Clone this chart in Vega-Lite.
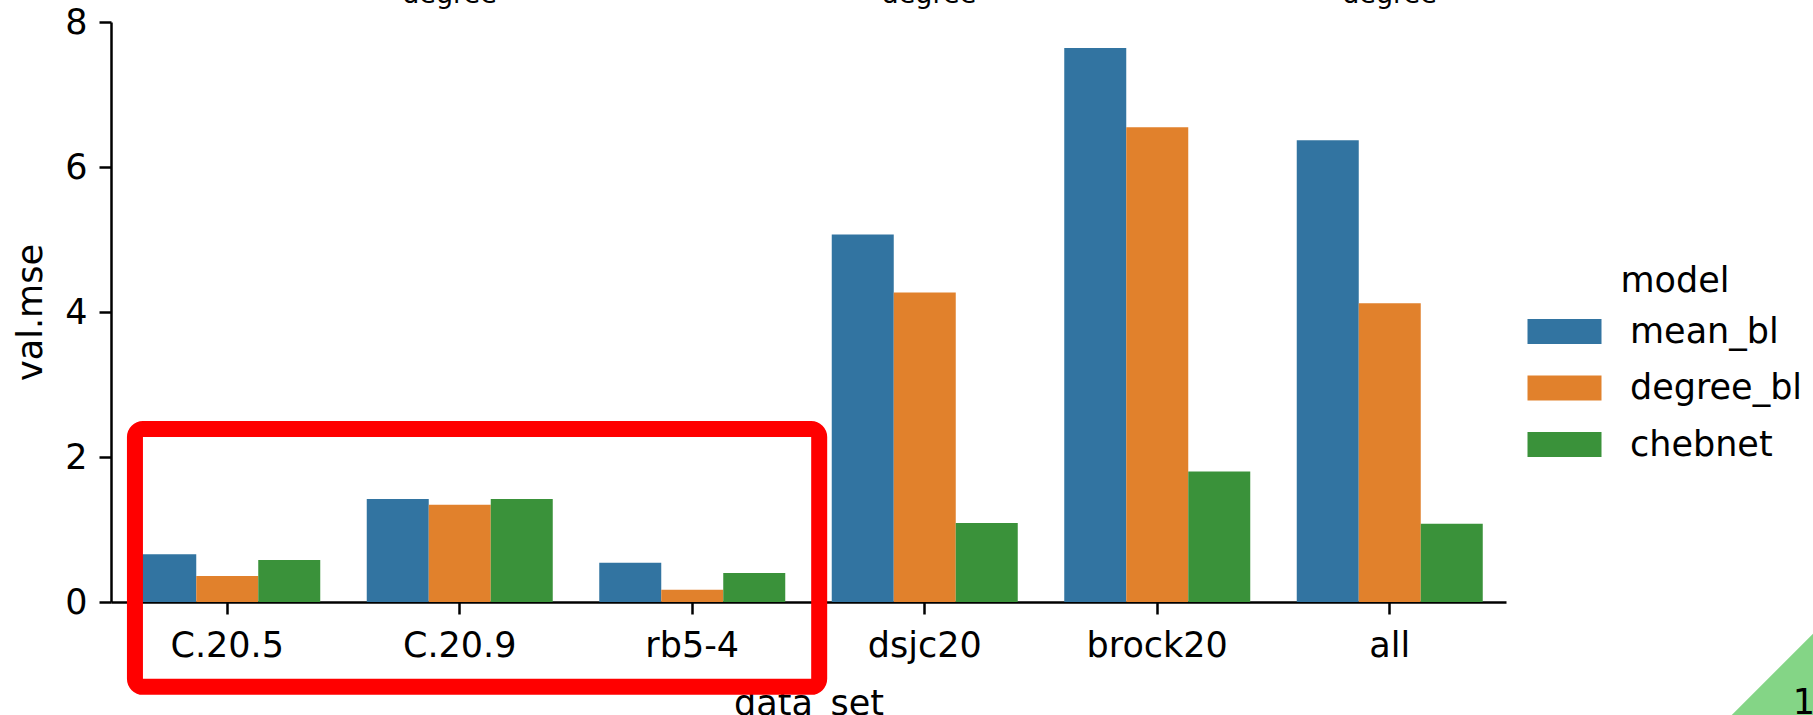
{
  "$schema": "https://vega.github.io/schema/vega-lite/v6.json",
  "width": 1395,
  "height": 580,
  "autosize": {"type": "none"},
  "padding": {"left": 111, "top": 22, "right": 307, "bottom": 113},
  "background": "white",
  "datasets": {
    "bars": [
      {"data_set": "C.20.5", "model": "mean_bl", "val_mse": 0.66},
      {"data_set": "C.20.5", "model": "degree_bl", "val_mse": 0.36},
      {"data_set": "C.20.5", "model": "chebnet", "val_mse": 0.58},
      {"data_set": "C.20.9", "model": "mean_bl", "val_mse": 1.42},
      {"data_set": "C.20.9", "model": "degree_bl", "val_mse": 1.34},
      {"data_set": "C.20.9", "model": "chebnet", "val_mse": 1.42},
      {"data_set": "rb5-4", "model": "mean_bl", "val_mse": 0.54},
      {"data_set": "rb5-4", "model": "degree_bl", "val_mse": 0.17},
      {"data_set": "rb5-4", "model": "chebnet", "val_mse": 0.40},
      {"data_set": "dsjc20", "model": "mean_bl", "val_mse": 5.07},
      {"data_set": "dsjc20", "model": "degree_bl", "val_mse": 4.27},
      {"data_set": "dsjc20", "model": "chebnet", "val_mse": 1.09},
      {"data_set": "brock20", "model": "mean_bl", "val_mse": 7.64},
      {"data_set": "brock20", "model": "degree_bl", "val_mse": 6.55},
      {"data_set": "brock20", "model": "chebnet", "val_mse": 1.80},
      {"data_set": "all", "model": "mean_bl", "val_mse": 6.37},
      {"data_set": "all", "model": "degree_bl", "val_mse": 4.12},
      {"data_set": "all", "model": "chebnet", "val_mse": 1.08}
    ],
    "box": [{"x1": 0.103, "x2": 3.046, "y1": -1.17, "y2": 2.386}],
    "corner": [{"x": 7.144, "y": -1.004}],
    "page": [{"label": "1", "x": 7.233, "y": -1.54}],
    "cut": [
      {"label": "degree", "x": 1.456, "y": 8.263},
      {"label": "degree", "x": 3.518, "y": 8.263},
      {"label": "degree", "x": 5.499, "y": 8.263}
    ]
  },
  "layer": [
    {
      "data": {"name": "bars"},
      "mark": {"type": "bar"},
      "encoding": {
        "x": {
          "field": "data_set",
          "type": "nominal",
          "sort": ["C.20.5", "C.20.9", "rb5-4", "dsjc20", "brock20", "all"],
          "scale": {"paddingInner": 0.2, "paddingOuter": 0.1},
          "axis": {"title": "data_set", "labelAngle": 0, "labelPadding": 14, "titlePadding": 23}
        },
        "xOffset": {
          "field": "model",
          "type": "nominal",
          "sort": ["mean_bl", "degree_bl", "chebnet"],
          "scale": {"paddingInner": 0, "paddingOuter": 0}
        },
        "y": {
          "field": "val_mse",
          "type": "quantitative",
          "scale": {"domain": [0, 8], "nice": false},
          "axis": {"title": "val.mse", "values": [0, 2, 4, 6, 8], "grid": false, "labelPadding": 12, "titlePadding": 16}
        },
        "color": {
          "field": "model",
          "type": "nominal",
          "sort": ["mean_bl", "degree_bl", "chebnet"],
          "scale": {"domain": ["mean_bl", "degree_bl", "chebnet"], "range": ["#3274a1", "#e1812c", "#3a923a"]},
          "legend": {
            "title": "model",
            "orient": "none",
            "legendX": 1436,
            "legendY": 242,
            "symbolType": "M-2.96,-1H2.96V1H-2.96Z",
            "symbolSize": 625,
            "symbolStrokeWidth": 0,
            "symbolOpacity": 1,
            "labelOffset": 48,
            "labelLimit": 0,
            "rowPadding": 20.5,
            "titlePadding": 15,
            "titleAnchor": "middle"
          }
        }
      }
    },
    {
      "data": {"name": "box"},
      "mark": {"type": "rect", "fill": null, "stroke": "#ff0000", "strokeWidth": 16, "cornerRadius": 8, "clip": false},
      "encoding": {
        "x": {"field": "x1", "type": "quantitative", "scale": {"domain": [0, 6], "nice": false, "zero": false}, "axis": null},
        "x2": {"field": "x2"},
        "y": {"field": "y1", "type": "quantitative", "scale": {"domain": [0, 8], "nice": false, "zero": false}, "axis": null},
        "y2": {"field": "y2"}
      }
    },
    {
      "data": {"name": "corner"},
      "mark": {"type": "point", "shape": "M-1,1L1,-1L1,1Z", "filled": true, "fill": "#84d586", "opacity": 1, "size": 26896, "strokeWidth": 0, "clip": false},
      "encoding": {
        "x": {"field": "x", "type": "quantitative", "scale": {"domain": [0, 6], "nice": false, "zero": false}, "axis": null},
        "y": {"field": "y", "type": "quantitative", "scale": {"domain": [0, 8], "nice": false, "zero": false}, "axis": null}
      }
    },
    {
      "data": {"name": "page"},
      "mark": {"type": "text", "align": "left", "baseline": "alphabetic", "fontSize": 35, "color": "black"},
      "encoding": {
        "x": {"field": "x", "type": "quantitative", "scale": {"domain": [0, 6], "nice": false, "zero": false}, "axis": null},
        "y": {"field": "y", "type": "quantitative", "scale": {"domain": [0, 8], "nice": false, "zero": false}, "axis": null},
        "text": {"field": "label"}
      }
    },
    {
      "data": {"name": "cut"},
      "mark": {"type": "text", "align": "center", "baseline": "alphabetic", "fontSize": 27, "color": "black"},
      "encoding": {
        "x": {"field": "x", "type": "quantitative", "scale": {"domain": [0, 6], "nice": false, "zero": false}, "axis": null},
        "y": {"field": "y", "type": "quantitative", "scale": {"domain": [0, 8], "nice": false, "zero": false}, "axis": null},
        "text": {"field": "label"}
      }
    }
  ],
  "resolve": {"scale": {"x": "independent", "y": "independent", "color": "independent"}},
  "config": {
    "font": "DejaVu Sans",
    "view": {"stroke": null},
    "axis": {
      "labelFontSize": 35,
      "labelColor": "black",
      "tickSize": 12,
      "tickWidth": 2.5,
      "tickColor": "black",
      "domainColor": "black",
      "domainWidth": 2.5,
      "titleFontSize": 35,
      "titleFontWeight": "normal",
      "titleColor": "black",
      "zindex": 1
    },
    "legend": {
      "labelFontSize": 35,
      "labelColor": "black",
      "titleFontSize": 35,
      "titleFontWeight": "normal",
      "titleColor": "black"
    }
  }
}
